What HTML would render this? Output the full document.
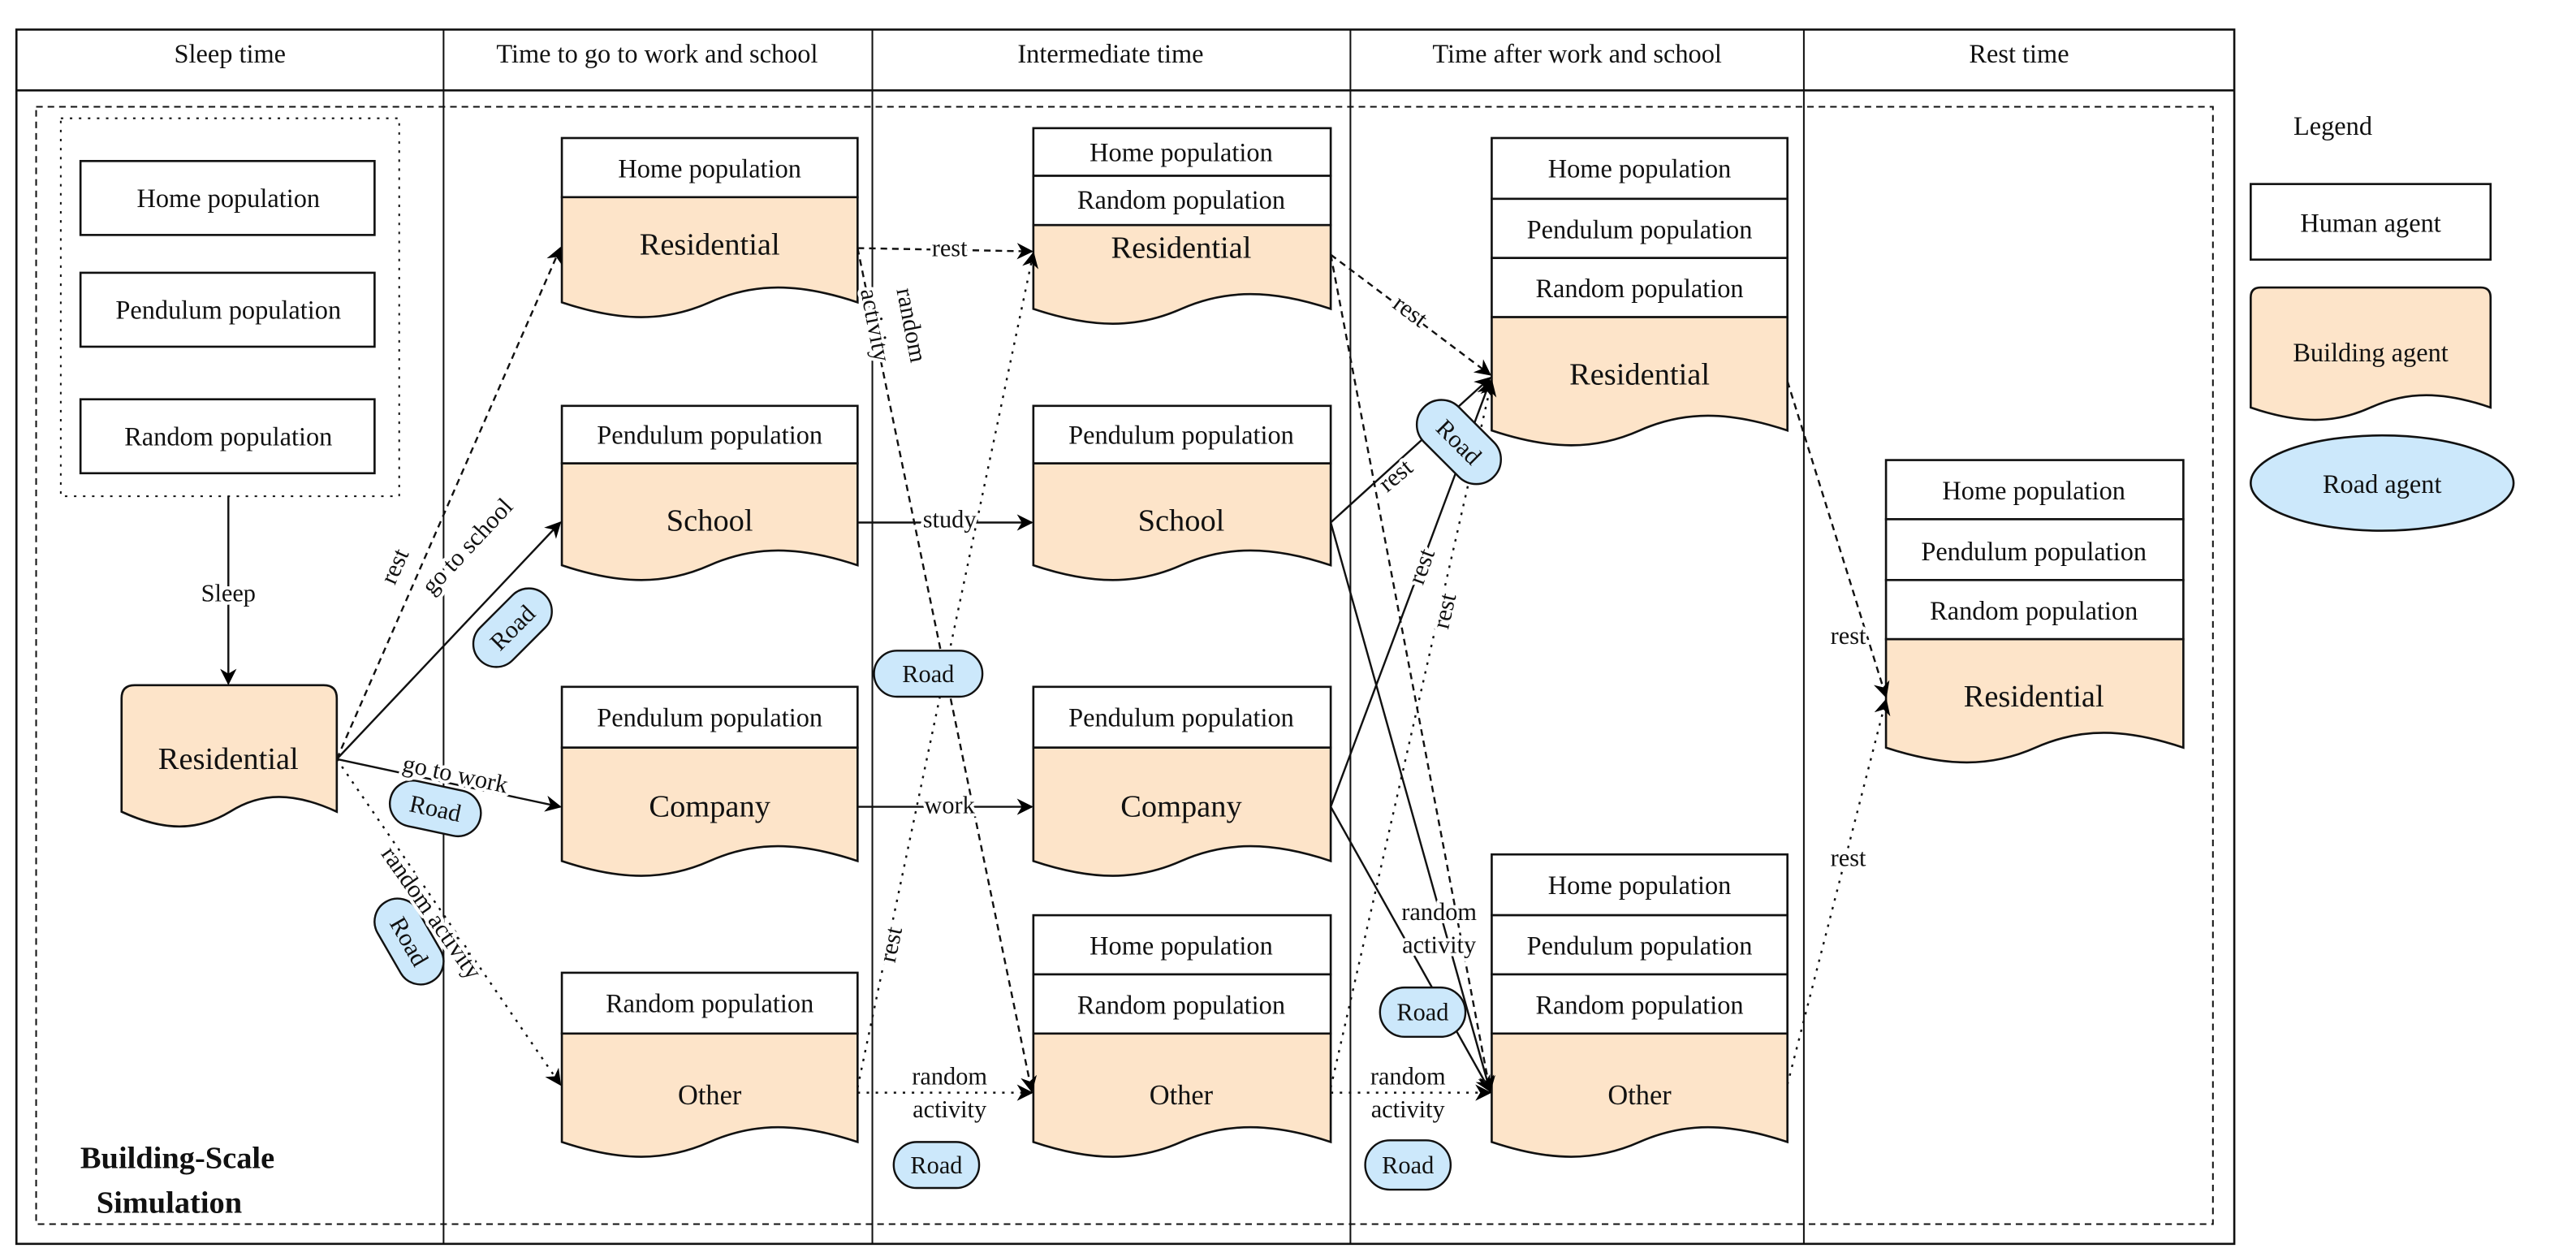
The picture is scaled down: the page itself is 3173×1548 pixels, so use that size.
<!DOCTYPE html>
<html><head><meta charset="utf-8"><style>
html,body{margin:0;padding:0;background:#fff;}
svg{display:block;}
text{font-family:"Liberation Serif",serif;fill:#111;}
.lb text{stroke:#fff;stroke-width:4px;paint-order:stroke;stroke-linejoin:round;}
</style></head><body>
<svg width="3173" height="1548" viewBox="0 0 1568 765" preserveAspectRatio="none" xmlns="http://www.w3.org/2000/svg">
<defs>
<marker id="a" markerWidth="10" markerHeight="10" refX="9" refY="5" orient="auto" markerUnits="userSpaceOnUse">
<path d="M0,0 L10,5 L0,10 L3,5 Z" fill="#000"/></marker>
</defs>
<g fill="none" stroke="#111">
<rect x="10" y="18" width="1350" height="739" stroke-width="1.3"/>
<line x1="10" y1="55" x2="1360" y2="55" stroke-width="1.3"/>
<line x1="270" y1="18" x2="270" y2="757"/>
<line x1="531" y1="18" x2="531" y2="757"/>
<line x1="822" y1="18" x2="822" y2="757"/>
<line x1="1098" y1="18" x2="1098" y2="757"/>
<rect x="22" y="65" width="1325" height="680" stroke-dasharray="4,3"/>
<rect x="37" y="72" width="206" height="230" stroke-dasharray="1.5,4"/>
</g>
<g font-size="16" text-anchor="middle">
<text x="140" y="38">Sleep time</text>
<text x="400" y="38">Time to go to work and school</text>
<text x="676" y="38">Intermediate time</text>
<text x="960" y="38">Time after work and school</text>
<text x="1229" y="38">Rest time</text>
</g>

<g fill="#fff" stroke="#111" stroke-width="1.3">
<rect x="49" y="98" width="179" height="45"/>
<rect x="49" y="166" width="179" height="45"/>
<rect x="49" y="243" width="179" height="45"/>
<rect x="342" y="84" width="180" height="36"/>
<rect x="342" y="247" width="180" height="35"/>
<rect x="342" y="418" width="180" height="37"/>
<rect x="342" y="592" width="180" height="37"/>
<rect x="629" y="78" width="181" height="29"/>
<rect x="629" y="107" width="181" height="30"/>
<rect x="629" y="247" width="181" height="35"/>
<rect x="629" y="418" width="181" height="37"/>
<rect x="629" y="557" width="181" height="36"/>
<rect x="629" y="593" width="181" height="36"/>
<rect x="908" y="84" width="180" height="37"/>
<rect x="908" y="121" width="180" height="36"/>
<rect x="908" y="157" width="180" height="36"/>
<rect x="908" y="520" width="180" height="37"/>
<rect x="908" y="557" width="180" height="36"/>
<rect x="908" y="593" width="180" height="36"/>
<rect x="1148" y="280" width="181" height="36"/>
<rect x="1148" y="316" width="181" height="37"/>
<rect x="1148" y="353" width="181" height="36"/>
<rect x="1370" y="112" width="146" height="46"/>
</g>
<g fill="#fde4c9" stroke="#111" stroke-width="1.3">
<path d="M74,425 Q74,417 82,417 H197 Q205,417 205,425 V494 C179,482 159,482 140,494 C120,506 100,506 74,494 Z"/>
<path d="M342,120 H522 V184 C486,172 459,172 432,184 C405,196 378,196 342,184 Z"/>
<path d="M342,282 H522 V344 C486,332 459,332 432,344 C405,356 378,356 342,344 Z"/>
<path d="M342,455 H522 V524 C486,512 459,512 432,524 C405,536 378,536 342,524 Z"/>
<path d="M342,629 H522 V695 C486,683 459,683 432,695 C405,707 378,707 342,695 Z"/>
<path d="M629,137 H810 V188 C774,176 746,176 719,188 C692,200 665,200 629,188 Z"/>
<path d="M629,282 H810 V344 C774,332 746,332 719,344 C692,356 665,356 629,344 Z"/>
<path d="M629,455 H810 V524 C774,512 746,512 719,524 C692,536 665,536 629,524 Z"/>
<path d="M629,629 H810 V695 C774,683 746,683 719,695 C692,707 665,707 629,695 Z"/>
<path d="M908,193 H1088 V262 C1052,250 1025,250 998,262 C971,274 944,274 908,262 Z"/>
<path d="M908,629 H1088 V695 C1052,683 1025,683 998,695 C971,707 944,707 908,695 Z"/>
<path d="M1148,389 H1329 V455 C1293,443 1266,443 1239,455 C1212,467 1185,467 1148,455 Z"/>
<path d="M1370,181 Q1370,175 1376,175 H1510 Q1516,175 1516,181 V248 C1487,238 1465,238 1443,248 C1421,258 1399,258 1370,248 Z"/>
</g>
<ellipse cx="1450" cy="294" rx="80" ry="29" fill="#cce8fb" stroke="#111" stroke-width="1.3"/>

<g fill="none" stroke="#111" stroke-width="1.2">
<line x1="139" y1="302" x2="139" y2="416" marker-end="url(#a)"/>
<line x1="205" y1="462" x2="341" y2="151" stroke-dasharray="4,3" marker-end="url(#a)"/>
<line x1="205" y1="462" x2="341" y2="318" marker-end="url(#a)"/>
<line x1="205" y1="462" x2="341" y2="491" marker-end="url(#a)"/>
<line x1="205" y1="462" x2="341" y2="660" stroke-dasharray="1.5,4" marker-end="url(#a)"/>
<line x1="522" y1="151" x2="628" y2="153" stroke-dasharray="4,3" marker-end="url(#a)"/>
<line x1="522" y1="151" x2="628" y2="664" stroke-dasharray="4,3" marker-end="url(#a)"/>
<line x1="522" y1="318" x2="628" y2="318" marker-end="url(#a)"/>
<line x1="522" y1="491" x2="628" y2="491" marker-end="url(#a)"/>
<line x1="522" y1="662" x2="629" y2="154" stroke-dasharray="1.5,4" marker-end="url(#a)"/>
<line x1="522" y1="665" x2="628" y2="665" stroke-dasharray="1.5,4" marker-end="url(#a)"/>
<line x1="810" y1="155" x2="907" y2="228" stroke-dasharray="4,3" marker-end="url(#a)"/>
<line x1="810" y1="155" x2="907" y2="664" stroke-dasharray="4,3" marker-end="url(#a)"/>
<line x1="810" y1="318" x2="907" y2="230" marker-end="url(#a)"/>
<line x1="810" y1="318" x2="907" y2="664" marker-end="url(#a)"/>
<line x1="810" y1="491" x2="907" y2="232" marker-end="url(#a)"/>
<line x1="810" y1="491" x2="907" y2="664" marker-end="url(#a)"/>
<line x1="810" y1="662" x2="908" y2="232" stroke-dasharray="1.5,4" marker-end="url(#a)"/>
<line x1="810" y1="665" x2="907" y2="665" stroke-dasharray="1.5,4" marker-end="url(#a)"/>
<line x1="1088" y1="232" x2="1148" y2="424" stroke-dasharray="4,3" marker-end="url(#a)"/>
<line x1="1088" y1="660" x2="1148" y2="426" stroke-dasharray="1.5,4" marker-end="url(#a)"/>
</g>

<g fill="#cce8fb" stroke="#111" stroke-width="1.2">
<rect x="-28" y="-14" width="56" height="28" rx="14" transform="translate(312,382) rotate(-45)"/>
<rect x="-28" y="-14" width="56" height="28" rx="14" transform="translate(265,492) rotate(12)"/>
<rect x="-28" y="-14" width="56" height="28" rx="14" transform="translate(249,573) rotate(60)"/>
<rect x="-33" y="-14" width="66" height="28" rx="14" transform="translate(565,410)"/>
<rect x="-26" y="-14" width="52" height="28" rx="14" transform="translate(570,709)"/>
<rect x="-30" y="-15" width="60" height="30" rx="15" transform="translate(888,269) rotate(45)"/>
<rect x="-26" y="-15" width="52" height="30" rx="15" transform="translate(866,616)"/>
<rect x="-26" y="-15" width="52" height="30" rx="15" transform="translate(857,709)"/>
</g>
<g font-size="15" text-anchor="middle">
<text transform="translate(312,382) rotate(-45)" y="5">Road</text>
<text transform="translate(265,492) rotate(12)" y="5">Road</text>
<text transform="translate(249,573) rotate(60)" y="5">Road</text>
<text x="565" y="415">Road</text>
<text x="570" y="714">Road</text>
<text transform="translate(888,269) rotate(45)" y="5">Road</text>
<text x="866" y="621">Road</text>
<text x="857" y="714">Road</text>
</g>

<g font-size="15" text-anchor="middle" class="lb">
<text x="139" y="366">Sleep</text>
<text transform="translate(241,345) rotate(-66)" y="4">rest</text>
<text transform="translate(285,333) rotate(-47)" y="4">go to school</text>
<text transform="translate(277,472) rotate(12)" y="4">go to work</text>
<text transform="translate(262,556) rotate(55)" y="4">random activity</text>
<text x="578" y="156">rest</text>
<text transform="translate(532,198) rotate(79)" y="4">activity</text>
<text transform="translate(554,198) rotate(79)" y="4">random</text>
<text x="578" y="321">study</text>
<text x="578" y="495">work</text>
<text transform="translate(543,575) rotate(-78)" y="4">rest</text>
<text x="578" y="660">random</text>
<text x="578" y="680">activity</text>
<text transform="translate(858,190) rotate(37)" y="4">rest</text>
<text transform="translate(850,290) rotate(-40)" y="4">rest</text>
<text transform="translate(866,345) rotate(-70)" y="4">rest</text>
<text transform="translate(880,372) rotate(-77)" y="4">rest</text>
<text x="876" y="560">random</text>
<text x="876" y="580">activity</text>
<text x="857" y="660">random</text>
<text x="857" y="680">activity</text>
<text x="1125" y="392">rest</text>
<text x="1125" y="527">rest</text>
</g>

<g font-size="16" text-anchor="middle">
<text x="139" y="126">Home population</text>
<text x="139" y="194">Pendulum population</text>
<text x="139" y="271">Random population</text>
<text x="432" y="108">Home population</text>
<text x="432" y="270">Pendulum population</text>
<text x="432" y="442">Pendulum population</text>
<text x="432" y="616">Random population</text>
<text x="719" y="98">Home population</text>
<text x="719" y="127">Random population</text>
<text x="719" y="270">Pendulum population</text>
<text x="719" y="442">Pendulum population</text>
<text x="719" y="581">Home population</text>
<text x="719" y="617">Random population</text>
<text x="998" y="108">Home population</text>
<text x="998" y="145">Pendulum population</text>
<text x="998" y="181">Random population</text>
<text x="998" y="544">Home population</text>
<text x="998" y="581">Pendulum population</text>
<text x="998" y="617">Random population</text>
<text x="1238" y="304">Home population</text>
<text x="1238" y="341">Pendulum population</text>
<text x="1238" y="377">Random population</text>
<text x="1443" y="141">Human agent</text>
<text x="1443" y="220">Building agent</text>
<text x="1450" y="300">Road agent</text>
<text x="1420" y="82">Legend</text>
</g>
<g font-size="19" text-anchor="middle">
<text x="139" y="468">Residential</text>
<text x="432" y="155">Residential</text>
<text x="432" y="323">School</text>
<text x="432" y="497">Company</text>
<text x="432" y="672" font-size="17">Other</text>
<text x="719" y="157">Residential</text>
<text x="719" y="323">School</text>
<text x="719" y="497">Company</text>
<text x="719" y="672" font-size="17">Other</text>
<text x="998" y="234">Residential</text>
<text x="998" y="672" font-size="17">Other</text>
<text x="1238" y="430">Residential</text>
</g>
<g font-size="19" font-weight="bold" text-anchor="middle">
<text x="108" y="711">Building-Scale</text>
<text x="103" y="738">Simulation</text>
</g>
</svg>
</body></html>
